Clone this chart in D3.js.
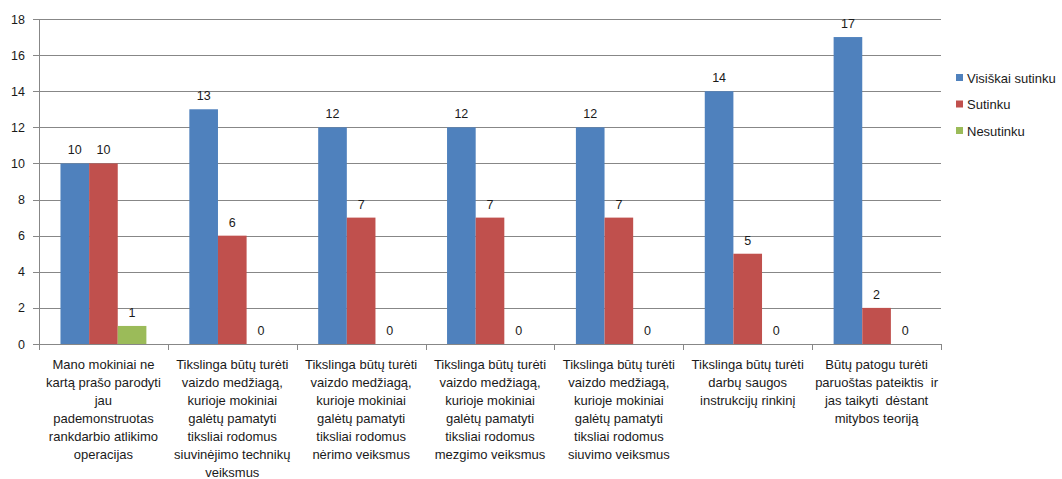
<!DOCTYPE html>
<html><head><meta charset="utf-8">
<script src="https://cdn.jsdelivr.net/npm/d3@7"></script>
<style>
html,body{margin:0;padding:0;background:#fff;}
text{font-family:"Liberation Sans","DejaVu Sans",sans-serif;fill:#1a1a1a;white-space:pre;}
</style></head>
<body><svg id="c" width="1062" height="479"></svg>
<script>
const categories = [
  ["Mano mokiniai ne","kartą prašo parodyti","jau","pademonstruotas","rankdarbio atlikimo","operacijas"],
  ["Tikslinga būtų turėti","vaizdo medžiagą,","kurioje mokiniai","galėtų pamatyti","tiksliai rodomus","siuvinėjimo technikų","veiksmus"],
  ["Tikslinga būtų turėti","vaizdo medžiagą,","kurioje mokiniai","galėtų pamatyti","tiksliai rodomus","nėrimo veiksmus"],
  ["Tikslinga būtų turėti","vaizdo medžiagą,","kurioje mokiniai","galėtų pamatyti","tiksliai rodomus","mezgimo veiksmus"],
  ["Tikslinga būtų turėti","vaizdo medžiagą,","kurioje mokiniai","galėtų pamatyti","tiksliai rodomus","siuvimo veiksmus"],
  ["Tikslinga būtų turėti","darbų saugos","instrukcijų rinkinį"],
  ["Būtų patogu turėti","paruoštas pateiktis  ir","jas taikyti  dėstant","mitybos teoriją"]
];
const seriesNames = ["Visiškai sutinku","Sutinku","Nesutinku"];
const visiskai = [10,13,12,12,12,14,17];
const sutinku  = [10,6,7,7,7,5,2];
const nesutinku = [1,0,0,0,0,0,0];
const yTicks = [0,2,4,6,8,10,12,14,16,18];
const colors = ["#4F81BD","#C0504D","#9BBB59"];

(function(){
const series = [visiskai, sutinku, nesutinku];
const svg = d3.select("#c");
const pL = 39, pR = 941, pT = 19, pB = 344;
const fs = 12.5;

const x = d3.scaleBand().domain(d3.range(categories.length)).range([pL,pR]).padding(0);
const bw = x.bandwidth();
const xs = d3.scaleBand().domain(d3.range(3)).range([bw*0.75/4.5, bw - bw*0.75/4.5]).padding(0);
const y = d3.scaleLinear().domain([0,18]).range([pB, pT]);

svg.append("g").selectAll("line").data(yTicks).join("line")
  .attr("x1", pL-6).attr("x2", pR).attr("y1", d=>Math.round(y(d))+0.5).attr("y2", d=>Math.round(y(d))+0.5)
  .attr("stroke", "#878787").attr("stroke-width",1);
svg.append("line").attr("x1",pL+0.5).attr("x2",pL+0.5).attr("y1",pT).attr("y2",pB)
  .attr("stroke","#878787");
svg.append("g").selectAll("text").data(yTicks).join("text")
  .attr("x", 25).attr("y", d=>y(d)+4.5).attr("text-anchor","end").attr("font-size",fs).text(d=>d);
svg.append("g").selectAll("line").data(d3.range(categories.length+1)).join("line")
  .attr("x1", i=> Math.round(i<categories.length? x(i) : pR)+0.5).attr("x2", i=> Math.round(i<categories.length? x(i) : pR)+0.5)
  .attr("y1", pB).attr("y2", pB+6).attr("stroke","#878787");

series.forEach((vals, si) => {
  const g = svg.append("g");
  g.selectAll("rect").data(vals).join("rect")
    .attr("x", (d,i)=> x(i) + xs(si))
    .attr("width", xs.bandwidth())
    .attr("y", d=> y(d))
    .attr("height", d=> y(0)-y(d))
    .attr("fill", colors[si]);
  g.selectAll("text").data(vals).join("text")
    .attr("x", (d,i)=> x(i) + xs(si) + xs.bandwidth()/2)
    .attr("y", d=> y(d) - 9)
    .attr("text-anchor","middle").attr("font-size",fs).text(d=>d);
});

categories.forEach((lines, i) => {
  const t = svg.append("text").attr("text-anchor","middle").attr("font-size",13);
  lines.forEach((ln, k) => {
    t.append("tspan").attr("x", x(i)+bw/2).attr("y", 369 + k*18).text(ln);
  });
});

const lg = svg.append("g");
seriesNames.forEach((n, i) => {
  lg.append("rect").attr("x",956).attr("y",74 + i*26.5).attr("width",7).attr("height",7).attr("fill",colors[i]);
  lg.append("text").attr("x",967).attr("y",82.5 + i*26.5).attr("font-size",13).text(n);
});
})();
</script></body></html>
